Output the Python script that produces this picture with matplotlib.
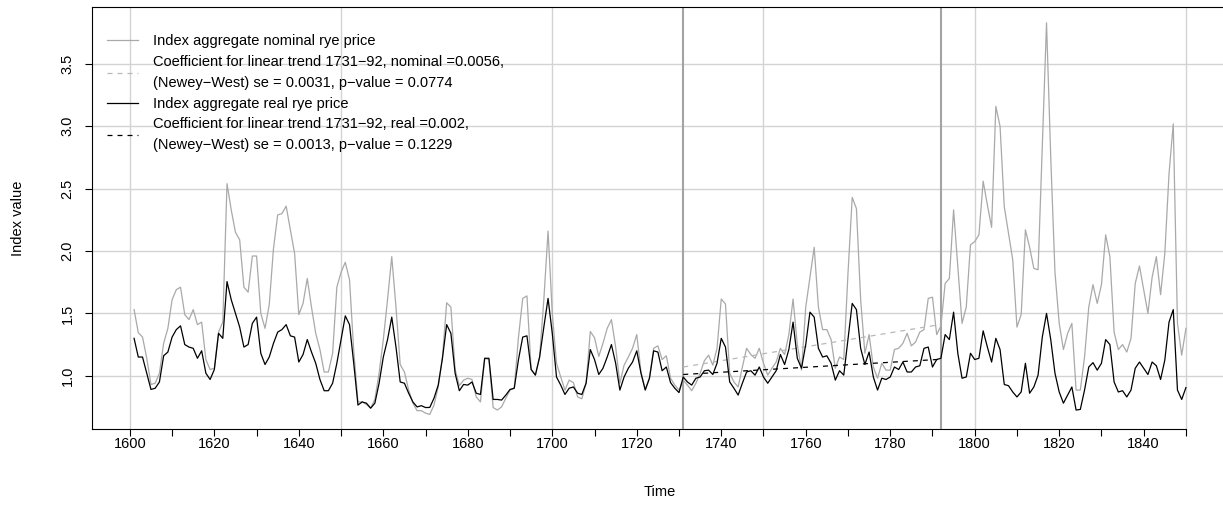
import numpy as np
import matplotlib
matplotlib.use("Agg")
import matplotlib.pyplot as plt
from matplotlib.lines import Line2D

plt.rcParams['font.family'] = ['Liberation Sans', 'DejaVu Sans']

years = np.arange(1601, 1851)

nominal = [
    1.53, 1.345, 1.31, 1.14, 0.93, 0.94, 1.02, 1.26, 1.38, 1.61,
    1.69, 1.71, 1.49, 1.45, 1.53, 1.41, 1.43, 1.13, 1.05, 1.06,
    1.35, 1.43, 2.54, 2.33, 2.15, 2.09, 1.71, 1.67, 1.96, 1.96,
    1.50, 1.38, 1.57, 2.02, 2.29, 2.30, 2.36, 2.17, 1.98, 1.49,
    1.58, 1.78, 1.55, 1.34, 1.21, 1.03, 1.03, 1.18, 1.71, 1.83,
    1.91, 1.77, 1.20, 0.79, 0.79, 0.77, 0.74, 0.81, 1.02, 1.29,
    1.61, 1.955, 1.55, 1.09, 1.03, 0.885, 0.78, 0.72, 0.72, 0.70,
    0.69, 0.765, 0.91, 1.15, 1.585, 1.55, 1.05, 0.92, 0.965, 0.98,
    0.97, 0.83, 0.79, 1.14, 1.13, 0.745, 0.725, 0.75, 0.82, 0.885,
    0.90, 1.31, 1.62, 1.64, 1.05, 1.005, 1.15, 1.61, 2.16, 1.50,
    1.10, 0.99, 0.885, 0.965, 0.945, 0.83, 0.815, 0.94, 1.355, 1.305,
    1.155, 1.26, 1.38, 1.45, 1.23, 0.94, 1.085, 1.15, 1.22, 1.33,
    1.03, 0.89, 0.98, 1.22, 1.24, 1.13, 1.16, 0.98, 0.925, 0.885,
    0.965, 0.925, 0.88, 0.94, 1.02, 1.12, 1.165, 1.085, 1.22, 1.615,
    1.575, 1.02, 0.95, 0.91, 1.07, 1.22, 1.17, 1.14, 1.22, 1.10,
    1.005, 1.06, 1.11, 1.22, 1.17, 1.33, 1.615, 1.25, 1.045, 1.55,
    1.79, 2.03, 1.55, 1.37, 1.37, 1.29, 1.06, 1.15, 1.13, 1.82,
    2.43, 2.34, 1.61, 1.18, 1.33, 1.07, 0.98, 1.10, 1.045, 1.045,
    1.21, 1.22, 1.26, 1.34, 1.24, 1.27, 1.35, 1.37, 1.62, 1.63,
    1.33, 1.40, 1.74, 1.78, 2.33, 1.87, 1.42, 1.55, 2.05, 2.075,
    2.13, 2.56, 2.37, 2.19, 3.16, 3.00, 2.355, 2.14, 1.93, 1.39,
    1.49, 2.17, 2.03, 1.86, 1.85, 2.84, 3.83, 2.75, 1.83, 1.42,
    1.21, 1.34, 1.42, 0.885, 0.885, 1.15, 1.55, 1.73, 1.58, 1.73,
    2.13, 1.955, 1.35, 1.21, 1.25, 1.19, 1.30, 1.74, 1.88, 1.69,
    1.50, 1.79, 1.955, 1.65, 1.98, 2.62, 3.02, 1.42, 1.165, 1.38,
]

real = [
    1.30, 1.15, 1.15, 1.02, 0.89, 0.90, 0.95, 1.16, 1.19, 1.31,
    1.37, 1.40, 1.25, 1.23, 1.22, 1.14, 1.20, 1.02, 0.97, 1.05,
    1.34, 1.30, 1.755, 1.61, 1.50, 1.39, 1.23, 1.25, 1.42, 1.47,
    1.18, 1.09, 1.15, 1.26, 1.35, 1.37, 1.41, 1.32, 1.31, 1.11,
    1.17, 1.29, 1.19, 1.10, 0.97, 0.88, 0.88, 0.94, 1.10, 1.29,
    1.48, 1.41, 1.10, 0.765, 0.79, 0.78, 0.74, 0.78, 0.94, 1.15,
    1.29, 1.47, 1.23, 0.95, 0.94, 0.86, 0.79, 0.75, 0.76, 0.745,
    0.746, 0.82, 0.925, 1.14, 1.41, 1.34, 1.02, 0.88, 0.93, 0.925,
    0.95, 0.86, 0.85, 1.14, 1.14, 0.81, 0.81, 0.805, 0.845, 0.89,
    0.90, 1.13, 1.31, 1.32, 1.05, 1.005, 1.15, 1.39, 1.62, 1.34,
    0.99, 0.925, 0.85, 0.90, 0.91, 0.86, 0.85, 0.94, 1.21, 1.13,
    1.01, 1.06, 1.15, 1.25, 1.10, 0.885, 0.99, 1.06, 1.11, 1.20,
    1.02, 0.885, 0.98, 1.20, 1.19, 1.04, 1.07, 0.945, 0.90, 0.865,
    0.99, 0.95, 0.925, 0.98, 0.99, 1.04, 1.045, 1.01, 1.10, 1.30,
    1.23, 0.95, 0.90, 0.845, 0.94, 1.03, 1.04, 1.005, 1.07, 0.99,
    0.94, 0.99, 1.04, 1.17, 1.09, 1.21, 1.43, 1.14, 1.06, 1.25,
    1.51, 1.47, 1.22, 1.15, 1.16, 1.10, 0.965, 1.04, 1.005, 1.29,
    1.58, 1.53, 1.22, 1.09, 1.19, 0.99, 0.885, 0.98, 0.97, 0.99,
    1.07, 1.05, 1.11, 1.03, 1.03, 1.07, 1.08, 1.22, 1.23, 1.07,
    1.13, 1.14, 1.33, 1.29, 1.51, 1.18, 0.98, 0.99, 1.18, 1.13,
    1.14, 1.36, 1.23, 1.11, 1.30, 1.21, 0.93, 0.92, 0.87, 0.83,
    0.87, 1.10, 0.86, 0.91, 1.005, 1.31, 1.50, 1.29, 1.02, 0.87,
    0.78, 0.845, 0.91, 0.725, 0.73, 0.885, 1.07, 1.105, 1.045, 1.10,
    1.29, 1.25, 0.95, 0.87, 0.88, 0.83, 0.885, 1.06, 1.11, 1.06,
    1.01, 1.11, 1.08, 0.97, 1.125, 1.43, 1.53, 0.885, 0.81, 0.905,
]

# linear trends 1731-92 (start value, coefficient from the legend)
trend_years = np.arange(1731, 1793)
trend_start_nominal = 1.07
trend_start_real = 1.01
coef_nominal = 0.0056
coef_real = 0.002

xticks = np.arange(1600, 1851, 10)
xticklabels = [str(y) if (y - 1600) % 20 == 0 and y < 1850 else '' for y in xticks]
yticks = [1.0, 1.5, 2.0, 2.5, 3.0, 3.5]
break_years = [1731, 1792]

fig = plt.figure(figsize=(12.23, 5.12), dpi=100)
ax = fig.add_axes([92 / 1223, (512 - 429) / 512, 1136 / 1223, (429 - 6.7) / 512])

ax.set_xlim(1591.04, 1859.96)
ax.set_ylim(0.573, 3.959)

# grid
for gx in range(1600, 1851, 50):
    ax.axvline(gx, color='#d3d3d3', lw=1.0, zorder=0)
for gy in yticks:
    ax.axhline(gy, color='#d3d3d3', lw=1.0, zorder=0)

for by in break_years:
    ax.axvline(by, color='#a3a3a3', lw=1.5, zorder=1)

ax.plot(years, nominal, color='#a9a9a9', lw=0.9, zorder=2)
ax.plot(years, real, color='black', lw=0.9, zorder=3)
ax.plot(trend_years, trend_start_nominal + coef_nominal * (trend_years - 1731),
        color='#b8b8b8', lw=0.9, dashes=(4, 4), zorder=2)
ax.plot(trend_years, trend_start_real + coef_real * (trend_years - 1731),
        color='black', lw=0.9, dashes=(4, 4), zorder=3)

ax.set_xticks(xticks)
ax.set_xticklabels(xticklabels)
ax.set_yticks(yticks)
ax.set_yticklabels(['1.0', '1.5', '2.0', '2.5', '3.0', '3.5'], rotation=90, va='center')
ax.tick_params(axis='both', direction='out', length=5, width=0.8, labelsize=10.5)
ax.tick_params(axis='x', pad=1)
ax.tick_params(axis='y', pad=7.5)

for s in ['left', 'top', 'bottom']:
    ax.spines[s].set_linewidth(0.8)
ax.spines['bottom'].set_bounds(1591.04, 1850)
ax.spines['right'].set_visible(False)

ax.set_xlabel('Time', fontsize=10.5, labelpad=24.5)
ax.set_ylabel('Index value', fontsize=10.5, labelpad=25.5)

handles = [
    Line2D([], [], color='#a9a9a9', lw=0.9),
    Line2D([], [], color='#b8b8b8', lw=0.9, dashes=(4, 4)),
    Line2D([], [], color='black', lw=0.9),
    Line2D([], [], color='black', lw=0.9, dashes=(4, 4)),
]
labels = [
    'Index aggregate nominal rye price',
    'Coefficient for linear trend 1731\u221292, nominal =0.0056,\n(Newey\u2212West) se = 0.0031, p\u2212value = 0.0774',
    'Index aggregate real rye price',
    'Coefficient for linear trend 1731\u221292, real =0.002,\n(Newey\u2212West) se = 0.0013, p\u2212value = 0.1229',
]
leg = ax.legend(handles, labels, loc='upper left', bbox_to_anchor=(0.0, 0.971), frameon=False,
                fontsize=10.5, handlelength=2.12, handletextpad=1.0, labelspacing=0.47,
                borderaxespad=0.63)
for t in leg.get_texts():
    t.set_linespacing(1.63)

fig.savefig('out.png', dpi=100)
